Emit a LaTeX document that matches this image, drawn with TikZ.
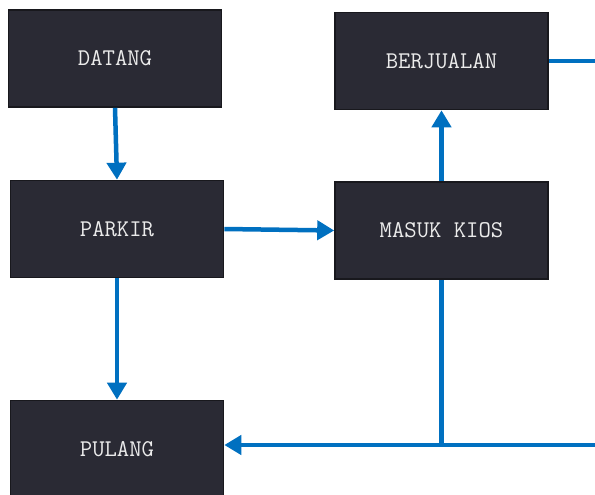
\documentclass[tikz,border=0pt]{standalone}
\usetikzlibrary{arrows.meta}
\definecolor{flowblue}{HTML}{0070C0}
\definecolor{boxfill}{HTML}{2A2A34}
\definecolor{boxedge}{HTML}{18181D}
\tikzset{
  stepbox/.style={draw=boxedge, line width=1.6pt, fill=boxfill, text=white!92!black,
    minimum width=213pt, minimum height=97pt, inner sep=0pt,
    font=\ttfamily\fontsize{24}{25}\selectfont},
  flow/.style={draw=flowblue, line width=4.5pt},
  flowarrow/.style={flow, -{Triangle[width=19pt,length=17pt]}}
}
\begin{document}
\begin{tikzpicture}[x=1pt,y=-1pt]
  \useasboundingbox (0,0) rectangle (595,495);
  \clip (0,0) rectangle (595,495);
  \fill[white] (0,0) rectangle (595,495);

  % process steps
  \node[stepbox] (datang)    at (115,58.5)  {DATANG};
  \node[stepbox] (berjualan) at (441.5,61)  {BERJUALAN};
  \node[stepbox] (parkir)    at (117,229)   {PARKIR};
  \node[stepbox] (masuk)     at (441.5,230.5) {MASUK KIOS};
  \node[stepbox] (pulang)    at (117,449)   {PULANG};

  % loose ends running off the right edge
  \coordinate (outtop) at (605,61);
  \coordinate (outbot) at (605,445);
  \coordinate (join)   at (masuk.south |- outbot);

  % connectors
  \draw[flowarrow] (datang.south) -- (parkir.north);
  \draw[flowarrow] (parkir.east) -- (masuk.west);
  \draw[flowarrow] (masuk.north) -- (berjualan.south);
  \draw[flowarrow] (parkir.south) -- (pulang.north);
  \draw[flow] (berjualan.east) -- (outtop);
  \draw[flow] (masuk.south) -- (join);
  \draw[flowarrow] (outbot) -- (pulang.east |- outbot);
\end{tikzpicture}
\end{document}
